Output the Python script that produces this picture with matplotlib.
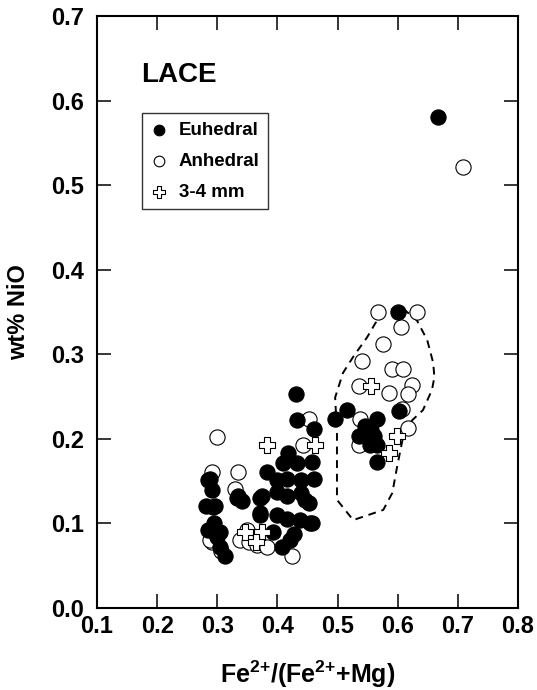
import numpy as np
import matplotlib
matplotlib.use("Agg")
import matplotlib.pyplot as plt
from matplotlib.path import Path
from matplotlib.patches import PathPatch
from matplotlib.ticker import MultipleLocator, FixedLocator

plt.rcParams['font.family'] = ['Liberation Sans', 'DejaVu Sans']
plt.rcParams['font.weight'] = 'bold'
plt.rcParams['mathtext.fontset'] = 'custom'
plt.rcParams['mathtext.rm'] = 'Liberation Sans:bold'
plt.rcParams['mathtext.default'] = 'rm'

# Euhedral (filled circles)
euh_x = [0.667, 0.600, 0.431, 0.516, 0.602, 0.496, 0.432, 0.565, 0.460, 0.536,
         0.560, 0.554, 0.565, 0.566, 0.545, 0.556, 0.418, 0.410, 0.432, 0.457,
         0.382, 0.285, 0.399, 0.416, 0.440, 0.460, 0.291, 0.335, 0.374, 0.399,
         0.416, 0.440, 0.452, 0.296, 0.282, 0.341, 0.371, 0.399, 0.416, 0.438,
         0.454, 0.294, 0.285, 0.305, 0.393, 0.407, 0.421, 0.427, 0.305, 0.313,
         0.457, 0.446, 0.288, 0.293, 0.299, 0.332, 0.371, 0.371]
euh_y = [0.580, 0.350, 0.253, 0.234, 0.233, 0.223, 0.222, 0.224, 0.212, 0.203,
         0.203, 0.193, 0.193, 0.173, 0.215, 0.210, 0.183, 0.171, 0.171, 0.173,
         0.161, 0.151, 0.151, 0.153, 0.151, 0.153, 0.139, 0.132, 0.132, 0.137,
         0.132, 0.136, 0.124, 0.121, 0.121, 0.126, 0.110, 0.110, 0.105, 0.104,
         0.101, 0.100, 0.092, 0.090, 0.090, 0.072, 0.080, 0.087, 0.072, 0.061,
         0.100, 0.128, 0.153, 0.120, 0.084, 0.130, 0.130, 0.112]

# Anhedral (open circles)
anh_x = [0.708, 0.567, 0.632, 0.606, 0.575, 0.541, 0.590, 0.608, 0.536, 0.624,
         0.586, 0.617, 0.453, 0.538, 0.617, 0.443, 0.536, 0.607, 0.299, 0.292,
         0.335, 0.330, 0.349, 0.338, 0.352, 0.366, 0.382, 0.424, 0.291, 0.307,
         0.288]
anh_y = [0.522, 0.350, 0.350, 0.332, 0.312, 0.292, 0.283, 0.283, 0.262, 0.264,
         0.254, 0.253, 0.224, 0.223, 0.213, 0.193, 0.193, 0.235, 0.202, 0.161,
         0.161, 0.141, 0.092, 0.080, 0.078, 0.074, 0.072, 0.061, 0.078, 0.067,
         0.080]

# 3-4 mm (cross symbols)
mm_x = [0.556, 0.599, 0.463, 0.586, 0.382, 0.346, 0.374, 0.365]
mm_y = [0.262, 0.203, 0.193, 0.183, 0.193, 0.090, 0.090, 0.078]

# dashed field outline
loop_x = [0.499, 0.499, 0.526, 0.576, 0.591, 0.599, 0.608, 0.624, 0.642, 0.657,
          0.661, 0.659, 0.649, 0.632, 0.604, 0.579, 0.563, 0.549, 0.526, 0.509,
          0.496]
loop_y = [0.207, 0.128, 0.104, 0.116, 0.136, 0.167, 0.199, 0.222, 0.234, 0.258,
          0.273, 0.290, 0.317, 0.340, 0.357, 0.350, 0.337, 0.320, 0.297, 0.278,
          0.249]

cross = Path([(-0.33, 1), (0.33, 1), (0.33, 0.33), (1, 0.33), (1, -0.33),
              (0.33, -0.33), (0.33, -1), (-0.33, -1), (-0.33, -0.33), (-1, -0.33),
              (-1, 0.33), (-0.33, 0.33), (-0.33, 1)], closed=True)

fig = plt.figure(figsize=(5.37, 6.90), dpi=100)
ax = fig.add_axes([0.1806, 0.1188, 0.784, 0.858])

ax.scatter(anh_x, anh_y, s=120, facecolor='white', edgecolor='black', linewidth=0.8,
           zorder=3, label='Anhedral')
ax.scatter(euh_x, euh_y, s=120, facecolor='black', edgecolor='black', linewidth=0.8,
           zorder=4, label='Euhedral')
ax.scatter(mm_x, mm_y, s=130, marker=cross, facecolor='white', edgecolor='black',
           linewidth=0.8, zorder=5, label='3-4 mm')

verts = list(zip(loop_x, loop_y)) + [(loop_x[0], loop_y[0])]
ax.add_patch(PathPatch(Path(verts, closed=True), facecolor='none', edgecolor='black',
                       linewidth=1.4, linestyle=(0, (4, 3)), zorder=2))

ax.set_xlim(0.1, 0.8)
ax.set_ylim(0.0, 0.7)
ax.xaxis.set_major_locator(MultipleLocator(0.1))
ax.yaxis.set_major_locator(MultipleLocator(0.1))
ax.xaxis.set_minor_locator(FixedLocator([0.5]))
ax.yaxis.set_minor_locator(FixedLocator([0.5]))
ax.tick_params(which='both', direction='in', top=True, right=True, width=1.1)
ax.tick_params(which='major', length=10, labelsize=17)
ax.tick_params(axis='x', which='major', pad=5)
ax.tick_params(axis='y', which='major', pad=9)
ax.tick_params(which='minor', length=21)
for sp in ax.spines.values():
    sp.set_linewidth(1.5)

ax.set_xlabel(r'Fe$^{2{+}}$/(Fe$^{2{+}}$+Mg)', fontsize=18, fontweight='bold')
ax.set_ylabel('wt% NiO', fontsize=17, fontweight='bold')
ax.xaxis.set_label_coords(0.5, -0.085)
ax.yaxis.set_label_coords(-0.16, 0.5)

ax.text(0.105, 0.900, 'LACE', transform=ax.transAxes, fontsize=20,
        fontweight='bold', ha='left', va='center')

h, l = ax.get_legend_handles_labels()
order = [1, 0, 2]
leg = ax.legend([h[i] for i in order], [l[i] for i in order], loc='upper left',
                bbox_to_anchor=(0.107, 0.836), borderaxespad=0, fancybox=False,
                edgecolor='black', fontsize=13.5, markerscale=0.7,
                handletextpad=0.6, borderpad=0.45, labelspacing=0.75,
                handlelength=0.9)
leg.get_frame().set_linewidth(1.0)
for t in leg.get_texts():
    t.set_fontweight('bold')

fig.savefig('out.png', dpi=100)
